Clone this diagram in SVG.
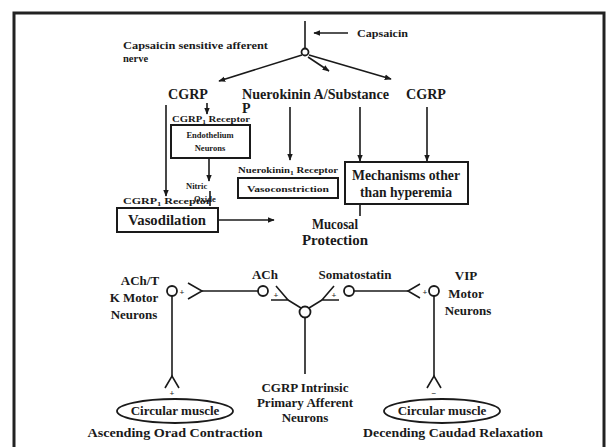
<svg xmlns="http://www.w3.org/2000/svg" width="611" height="447" viewBox="0 0 611 447">
<style>
text{font-family:"Liberation Serif","Times New Roman",serif;font-weight:bold;fill:#1a1a1a}
.l{font-size:14px}
.m{font-size:13px}
.s{font-size:10.5px}
.xs{font-size:8.5px}
.c{text-anchor:middle}
.ln{stroke:#1a1a1a;stroke-width:1.6;fill:none}
.bx{stroke:#1a1a1a;stroke-width:2;fill:#fff}
.cir{stroke:#1a1a1a;stroke-width:1.8;fill:#fff}
.ar{marker-end:url(#ah)}
</style>
<defs>
<marker id="ah" viewBox="0 0 10 10" refX="9" refY="5" markerWidth="7" markerHeight="7" markerUnits="userSpaceOnUse" orient="auto">
<path d="M0,1 L10,5 L0,9 z" fill="#1a1a1a"/>
</marker>
</defs>
<rect width="611" height="447" fill="#fff"/>
<rect x="14" y="13" width="590" height="460" fill="none" stroke="#222" stroke-width="3"/>

<g id="connectors">
<line class="ln" x1="305" y1="21" x2="305" y2="49"/>
<line class="ln ar" x1="348" y1="33" x2="314" y2="33"/>
<line class="ln ar" x1="302" y1="55" x2="219" y2="81"/>
<line class="ln ar" x1="308" y1="57" x2="329" y2="71"/>
<line class="ln ar" x1="309" y1="55" x2="391" y2="79"/>
<line class="ln ar" x1="166" y1="105" x2="166" y2="196"/>
<line class="ln ar" x1="207" y1="103" x2="207" y2="114"/>
<line class="ln ar" x1="209" y1="158" x2="209" y2="181"/>
<line class="ln" x1="210" y1="191" x2="210" y2="206"/>
<line class="ln ar" x1="218" y1="220" x2="274" y2="220"/>
<line class="ln ar" x1="290" y1="107" x2="290" y2="160"/>
<line class="ln ar" x1="360" y1="107" x2="360" y2="161"/>
<line class="ln ar" x1="427" y1="107" x2="427" y2="161"/>
<line class="ln" x1="360" y1="204" x2="360" y2="216"/>
<!-- bottom neural circuit -->
<polyline class="ln" points="188,283 202,291 188,299"/>
<line class="ln" x1="202" y1="291" x2="258" y2="291"/>
<polyline class="ln" points="276,286 288,300 271,300"/>
<line class="ln" x1="288" y1="300" x2="301" y2="308"/>
<polyline class="ln" points="334,286 322,300 339,300"/>
<line class="ln" x1="322" y1="300" x2="309" y2="308"/>
<line class="ln" x1="354" y1="291" x2="408" y2="291"/>
<polyline class="ln" points="420,284 408,291 420,298"/>
<line class="ln" x1="305" y1="317" x2="305" y2="374"/>
<line class="ln" x1="172" y1="296" x2="172" y2="376"/>
<polyline class="ln" points="165,388 172,376 179,388"/>
<line class="ln" x1="434" y1="296" x2="434" y2="376"/>
<polyline class="ln" points="427,388 434,376 441,388"/>
</g>

<g id="capsaicin-node">
<circle class="cir" cx="305" cy="52" r="3.5"/>
<text class="s" x="357" y="37" textLength="51" lengthAdjust="spacingAndGlyphs">Capsaicin</text>
<text class="s" x="123" y="49" textLength="145" lengthAdjust="spacingAndGlyphs">Capsaicin sensitive afferent</text>
<text class="s" x="123" y="62">nerve</text>
</g>

<g id="cgrp-left"><text class="l" x="168" y="99" textLength="40" lengthAdjust="spacingAndGlyphs">CGRP</text></g>
<g id="neurokinin">
<text class="l" x="242" y="99" textLength="147" lengthAdjust="spacingAndGlyphs">Nuerokinin A/Substance</text>
<text class="l" x="242" y="113">P</text>
</g>
<g id="cgrp-right"><text class="l" x="406" y="99" textLength="40" lengthAdjust="spacingAndGlyphs">CGRP</text></g>

<g id="endothelium">
<text class="xs" x="172" y="122" textLength="78" lengthAdjust="spacingAndGlyphs">CGRP<tspan font-size="6" dy="2">1</tspan><tspan dy="-2"> Receptor</tspan></text>
<rect class="bx" x="171" y="125" width="79" height="33"/>
<text class="xs c" x="210" y="138">Endothelium</text>
<text class="xs c" x="210" y="151">Neurons</text>
</g>

<g id="nitric-oxide">
<text class="xs" x="186" y="189" font-size="7">Nitric</text>
<text class="xs" x="194" y="202" font-size="7">Oxide</text>
</g>

<g id="vasodilation">
<text class="xs" x="123" y="204" textLength="88" lengthAdjust="spacingAndGlyphs">CGRP<tspan font-size="6" dy="2">1</tspan><tspan dy="-2"> Receptor</tspan></text>
<rect class="bx" x="117" y="208" width="101" height="24"/>
<text class="l c" x="167" y="225" textLength="78" lengthAdjust="spacingAndGlyphs">Vasodilation</text>
</g>

<g id="vasoconstriction">
<text class="xs" x="238" y="173" textLength="100" lengthAdjust="spacingAndGlyphs">Nuerokinin<tspan font-size="6" dy="2">1</tspan><tspan dy="-2"> Receptor</tspan></text>
<rect class="bx" x="238" y="178" width="100" height="20"/>
<text class="xs c" x="288" y="192" textLength="82" lengthAdjust="spacingAndGlyphs">Vasoconstriction</text>
</g>

<g id="mechanisms">
<rect class="bx" x="345" y="162" width="123" height="42"/>
<text class="l c" x="406" y="180" textLength="108" lengthAdjust="spacingAndGlyphs">Mechanisms other</text>
<text class="l c" x="406" y="197" textLength="92" lengthAdjust="spacingAndGlyphs">than hyperemia</text>
</g>

<g id="mucosal-protection">
<text class="l c" x="335" y="229" textLength="46" lengthAdjust="spacingAndGlyphs">Mucosal</text>
<text class="l c" x="335" y="245" textLength="66" lengthAdjust="spacingAndGlyphs">Protection</text>
</g>

<g id="ach-tk-motor">
<circle class="cir" cx="172" cy="291" r="5"/>
<text class="xs c" x="182" y="295" font-size="8">+</text>
<text class="m c" x="140" y="285">ACh/T</text>
<text class="m c" x="134" y="302">K Motor</text>
<text class="m c" x="134" y="319">Neurons</text>
<text class="xs c" x="172" y="396" font-size="8">+</text>
</g>

<g id="ach-node">
<circle class="cir" cx="263" cy="291" r="5"/>
<text class="m c" x="265" y="279">ACh</text>
<text class="xs c" x="276" y="298" font-size="8">+</text>
</g>

<g id="somatostatin-node">
<circle class="cir" cx="349" cy="291" r="5"/>
<text class="m c" x="355" y="279">Somatostatin</text>
<text class="xs c" x="334" y="298" font-size="8">+</text>
</g>

<g id="cgrp-intrinsic">
<circle class="cir" cx="305" cy="312" r="5.5"/>
<text class="m c" x="305" y="392">CGRP Intrinsic</text>
<text class="m c" x="305" y="407">Primary Afferent</text>
<text class="m c" x="305" y="422">Neurons</text>
</g>

<g id="vip-motor">
<circle class="cir" cx="434" cy="291" r="5"/>
<text class="xs c" x="425" y="295" font-size="8">+</text>
<text class="m c" x="466" y="280">VIP</text>
<text class="m c" x="466" y="298">Motor</text>
<text class="m c" x="468" y="315">Neurons</text>
<text class="xs c" x="434" y="396" font-size="9">−</text>
</g>

<g id="circular-muscle-left">
<ellipse class="cir" cx="175" cy="411" rx="58" ry="12" stroke-width="2"/>
<text class="m c" x="175" y="415">Circular muscle</text>
<text class="m c" x="175" y="437" textLength="175" lengthAdjust="spacingAndGlyphs">Ascending Orad Contraction</text>
</g>

<g id="circular-muscle-right">
<ellipse class="cir" cx="442" cy="411" rx="58" ry="12" stroke-width="2"/>
<text class="m c" x="442" y="415">Circular muscle</text>
<text class="m c" x="453" y="437" textLength="180" lengthAdjust="spacingAndGlyphs">Decending Caudad Relaxation</text>
</g>
</svg>
